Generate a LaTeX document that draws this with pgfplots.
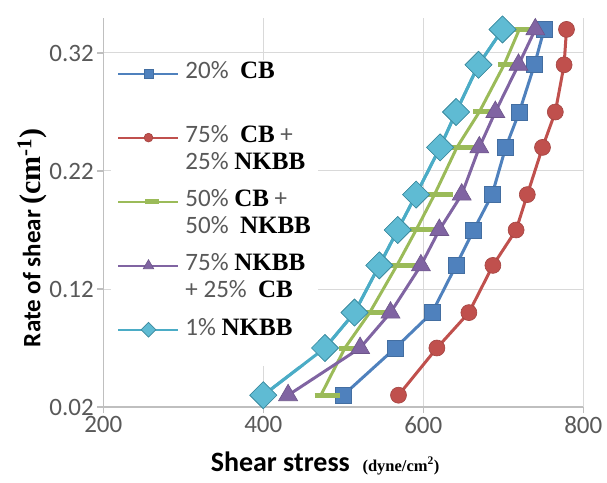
\documentclass[border=0pt]{standalone}
\usepackage{pgfplots}
\usepackage{pgfplotstable}
\pgfplotsset{compat=1.18}
\usepackage{fontspec}
\setmainfont{Carlito}
\newfontfamily\tnr{Liberation Serif}
\definecolor{cblue}{HTML}{4F81BD}
\definecolor{cred}{HTML}{C0504D}
\definecolor{cgreen}{HTML}{9BBB59}
\definecolor{cpurple}{HTML}{8064A2}
\definecolor{ccyan}{HTML}{4BACC6}
\definecolor{ccyanfill}{HTML}{5FBBD3}
\definecolor{axisgray}{HTML}{BFBFBF}
\definecolor{gridgray}{HTML}{D9D9D9}
\definecolor{labelgray}{HTML}{595959}
\pgfdeclareplotmark{rdash}{%
  \pgfpathmoveto{\pgfqpoint{-0.5\pgfplotmarksize}{0pt}}%
  \pgfpathlineto{\pgfqpoint{1.5\pgfplotmarksize}{0pt}}%
  \pgfusepathqstroke}
\pgfplotsset{
  legend image code/.code={%
    \draw[mark repeat=2,mark phase=2,#1,line width=2bp,mark size=0.55\pgfplotmarksize]
      plot coordinates {(0bp,11bp) (30bp,11bp) (60bp,11bp)};},
  cyanplot/.style={color=ccyan, line width=3bp, mark=square*, mark size=9.5bp,
    mark options={solid, rotate=45, fill=ccyanfill, draw=ccyan!80!black, line width=0.6bp}},
  frame/.style={at={(0,0)}, anchor=south west,
    scale only axis, width=480bp, height=389.4bp,
    xmin=200, xmax=800, ymin=0.02, ymax=0.35}
}
\pgfplotstableread{
x y
400 0.03
477 0.07
514 0.10
545 0.14
568 0.17
591 0.20
621 0.24
641 0.27
669 0.31
699 0.34
}\cyandata
\begin{document}
\begin{tikzpicture}
\begin{axis}[
  frame,
  xtick={200,400,600,800}, ytick={0.02,0.12,0.22,0.32},
  /pgf/number format/assume math mode=true,
  yticklabel style={/pgf/number format/fixed, /pgf/number format/precision=2, /pgf/number format/fixed zerofill},
  axis x line*=bottom, axis y line*=left,
  axis line style={-, draw=axisgray, line width=1.5bp},
  grid=major, major grid style={draw=gridgray, line width=1bp},
  tick style={draw=axisgray, line width=1.2bp}, tick align=outside, major tick length=6bp,
  ticklabel style={font=\fontsize{25bp}{30bp}\selectfont, text=labelgray},
  xlabel={{\bfseries Shear stress}~~{\tnr\bfseries\fontsize{16.5bp}{20bp}\selectfont (dyne/cm\textsuperscript{2})}},
  ylabel={{\bfseries Rate of shear} {\tnr\bfseries\fontsize{30bp}{34bp}\selectfont (cm\textsuperscript{-1})}},
  xlabel style={font=\fontsize{28bp}{32bp}\selectfont, at={(axis description cs:0.462,-0.144)}, anchor=center},
  ylabel style={font=\fontsize{25bp}{30bp}\selectfont, at={(axis description cs:-0.1485,0.435)}, anchor=center},
  legend cell align=left,
  legend style={at={(0,1)}, anchor=north west, xshift=8bp, yshift=-42bp,
    draw=none, fill=white, inner xsep=6bp, inner ysep=1bp,
    row sep=16.5bp, column sep=5bp,
    nodes={inner sep=1bp, align=left},
    font=\fontsize{25bp}{27bp}\selectfont},
]
\addplot[color=cblue, line width=3bp, mark=square*, mark size=8bp,
  mark options={solid, fill=cblue, draw=cblue!85!black, line width=0.6bp}]
  coordinates {(500,0.03) (565,0.07) (611,0.10) (641,0.14) (663,0.17) (686,0.20) (703,0.24) (720,0.27) (739,0.31) (751,0.34)};
\addlegendentry{{\color{labelgray}20\%}~~{\tnr\bfseries CB}\\\mbox{}}
\addplot[color=cred, line width=3bp, mark=*, mark size=8bp,
  mark options={solid, fill=cred, draw=cred!85!black, line width=0.6bp}]
  coordinates {(569,0.03) (617,0.07) (657,0.10) (687,0.14) (716,0.17) (730,0.20) (749,0.24) (765,0.27) (776,0.31) (779,0.34)};
\addlegendentry{{\color{labelgray}75\%}~~{\tnr\bfseries CB} {\color{labelgray}+}\\{\color{labelgray}25\%} {\tnr\bfseries NKBB}}
\addplot[color=cgreen, line width=3bp, mark=rdash, mark size=12.5bp,
  mark options={solid, line width=5bp}]
  coordinates {(472,0.03) (502,0.07) (533,0.10) (567,0.14) (591,0.17) (614,0.20) (642,0.24) (670,0.27) (701,0.31) (720,0.34)};
\addlegendentry{{\color{labelgray}50\%} {\tnr\bfseries CB} {\color{labelgray}+}\\{\color{labelgray}50\%}~~{\tnr\bfseries NKBB}}
\addplot[color=cpurple, line width=3bp, mark=triangle*, mark size=11bp,
  mark options={solid, fill=cpurple, draw=cpurple!85!black, line width=0.6bp}]
  coordinates {(431,0.03) (521,0.07) (559,0.10) (597,0.14) (620,0.17) (648,0.20) (670,0.24) (690,0.27) (719,0.31) (740,0.34)};
\addlegendentry{{\color{labelgray}75\%} {\tnr\bfseries NKBB}\\{\color{labelgray}+ 25\%}~~{\tnr\bfseries CB}}
\addplot[cyanplot] table[x=x,y=y] {\cyandata};
\addlegendentry{{\color{labelgray}1\%} {\tnr\bfseries NKBB}\\\mbox{}}
\end{axis}
\begin{axis}[frame, hide axis]
\addplot[cyanplot] table[x=x,y=y] {\cyandata};
\end{axis}
\pgfresetboundingbox
\path (-103.3bp,-76bp) rectangle (503.7bp,407bp);
\end{tikzpicture}
\end{document}
